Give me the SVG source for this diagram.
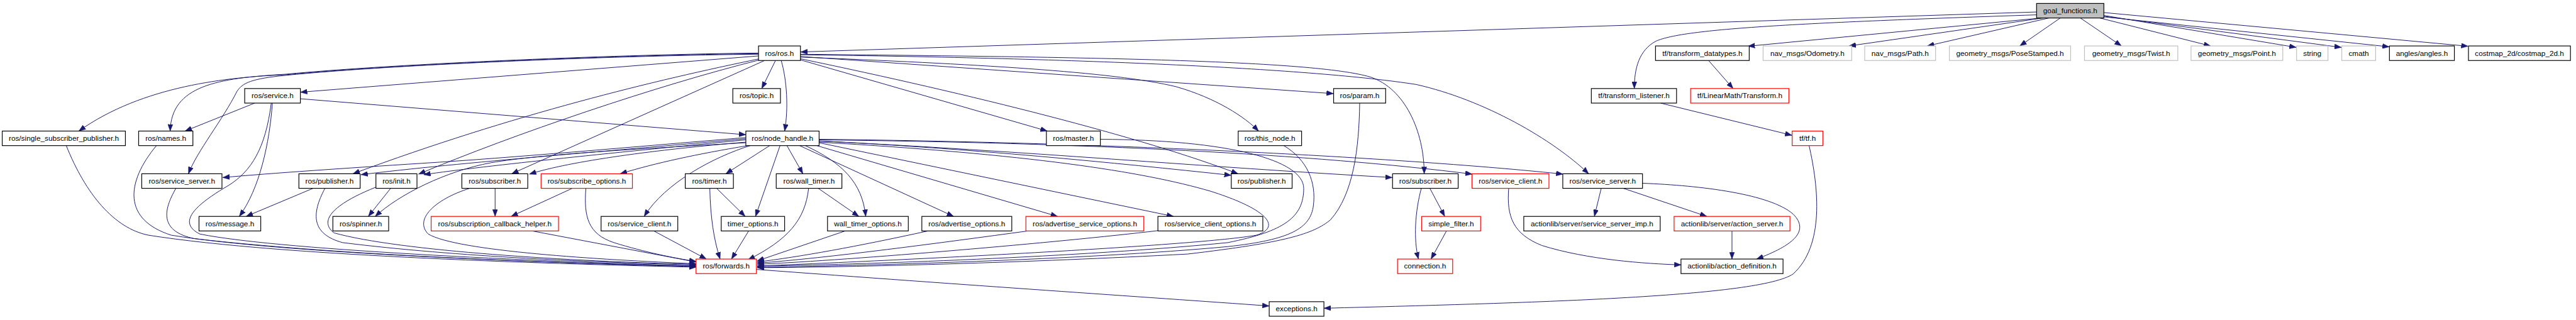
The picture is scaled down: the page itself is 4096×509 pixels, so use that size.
<svg xmlns="http://www.w3.org/2000/svg" width="4096" height="509" viewBox="0 0 4096 509">
<style>
rect.b{fill:#fff;stroke:#000;stroke-width:1.3}
rect.r{fill:#fff;stroke:#ff0000;stroke-width:1.3}
rect.g{fill:#fff;stroke:#bfbfbf;stroke-width:1.3}
rect.root{fill:#bfbfbf;stroke:#000;stroke-width:1.3}
text{font-family:"Liberation Sans",Arial,Helvetica,sans-serif;font-size:13px;text-anchor:middle;fill:#000}
#edges path{fill:none;stroke:#191970;stroke-width:1.1;marker-end:url(#a)}
</style>
<defs>
<marker id="a" markerUnits="userSpaceOnUse" markerWidth="12" markerHeight="9" refX="12" refY="4.5" orient="auto">
<path d="M0,0 L12,4.5 L0,9 z" fill="#191970" stroke="#191970" stroke-width="0.5"/>
</marker>
</defs>
<rect width="4096" height="509" fill="#fff"/>
<g transform="scale(0.908)">
<g id="edges">
<path d="M3566,21 L1402,91"/>
<path d="M3566,26 C3150,40 2950,50 2900,72 C2870,88 2862,120 2862,155"/>
<path d="M3575,31.5 L3061,81"/>
<path d="M3578,31.5 L3238,80.5"/>
<path d="M3588,31.5 L3375,80.5"/>
<path d="M3608,31.5 L3537,80.5"/>
<path d="M3643,31.5 L3715,80.5"/>
<path d="M3675,31 L3871,80.5"/>
<path d="M3684,27 L4021,83"/>
<path d="M3684,28.5 L4100,83"/>
<path d="M3684,29.5 L4184,82"/>
<path d="M3684,22 L4322,81"/>
<path d="M1328,94 C1100,96 700,112 500,131 C400,135 250,150 138,229.6"/>
<path d="M1328,93 C1100,95 700,111 500,130 C380,137 300,150 298,229.6"/>
<path d="M1328,95 C1100,97 700,112 500,132 C440,138 425,145 415,160 C390,210 345,265 330,304.4"/>
<path d="M1328,98 L526,161.5"/>
<path d="M1339,106 L896,304.4"/>
<path d="M1330,103 C1150,140 900,200 618,304.4"/>
<path d="M1330,105 C1150,150 900,235 733,305"/>
<path d="M1358,106 L1334,155.1"/>
<path d="M1368,106 C1378,140 1381,190 1374,229.6"/>
<path d="M1402,105 L1834,229.6"/>
<path d="M1402,103 C1700,165 2000,240 2168,304.4"/>
<path d="M1402,100 C1700,112 1950,125 2060,152 C2130,172 2180,205 2204,229.6"/>
<path d="M1402,99 L2335,164"/>
<path d="M1402,95 C1900,100 2300,105 2400,135 C2460,155 2494,230 2494,304.4"/>
<path d="M1402,96 C1900,102 2300,120 2480,148 C2600,175 2720,245 2782,304.4"/>
<path d="M446,180.6 L324,229.6"/>
<path d="M526,173 L1306,236"/>
<path d="M477,180.6 C472,250 455,330 419,379.1"/>
<path d="M475,180.6 C465,260 440,300 400,325 C340,360 310,390 350,410 C500,440 1000,460 1219,466"/>
<path d="M116,255 C150,340 200,400 260,412 C500,450 1000,463 1219,468"/>
<path d="M274,255 C220,320 215,385 300,412 C500,445 1000,462 1219,467"/>
<path d="M308,330 C285,370 280,405 340,418 C600,448 1000,462 1219,466"/>
<path d="M548,330 L431,379.1"/>
<path d="M569,330 C545,375 545,410 600,425 C800,450 1050,460 1219,464"/>
<path d="M684,330 L645,379.1"/>
<path d="M658,328 C590,355 555,385 585,408 C700,440 1000,458 1219,463"/>
<path d="M1306,241 C1100,258 900,276 740,286 C600,295 480,303 390,311"/>
<path d="M1306,243 C1100,262 800,285 632,306"/>
<path d="M1306,245 C1100,265 850,290 742,306"/>
<path d="M1306,250 C1100,262 950,270 860,285 C780,300 700,340 657,379.1"/>
<path d="M1306,249 C1150,262 1000,282 927,305"/>
<path d="M1310,255 C1220,270 1150,285 1086,304.4"/>
<path d="M1314,255 C1250,275 1165,320 1128,379.1"/>
<path d="M1348,255 L1271,304.4"/>
<path d="M1366,255 L1323,379.1"/>
<path d="M1378,255 L1406,304.4"/>
<path d="M1410,255 C1475,285 1510,320 1516,379.1"/>
<path d="M1400,255 L1670,379.1"/>
<path d="M1430,255 L1852,379.1"/>
<path d="M1434,250 L2055,379.1"/>
<path d="M1434,249 C1800,270 2000,300 2120,335 C2230,370 2240,400 2200,412 C2100,430 1600,455 1326,466"/>
<path d="M1434,247 C1700,260 1950,285 2156,307"/>
<path d="M1434,247 C1800,265 2100,292 2438,311"/>
<path d="M1434,245 C1900,250 2300,270 2578,305"/>
<path d="M1434,244 C2000,250 2500,280 2737,305"/>
<path d="M867,330 L867,379.1"/>
<path d="M822,330 C760,350 725,385 750,410 C800,440 1050,455 1219,462"/>
<path d="M1002,330 L895,379.1"/>
<path d="M1026,330 C1022,380 1030,410 1075,425 C1130,442 1180,452 1219,458"/>
<path d="M932,404.6 L1219,459"/>
<path d="M1145,404.6 L1237,453.8"/>
<path d="M1255,330 L1305,379.1"/>
<path d="M1243,330 C1244,380 1250,420 1261,453.8"/>
<path d="M1311,404.6 L1281,453.8"/>
<path d="M1433,330 L1504,379.1"/>
<path d="M1416,330 C1410,385 1380,420 1310,455"/>
<path d="M1480,404.6 L1326,457"/>
<path d="M1625,404.6 C1500,432 1400,450 1326,459"/>
<path d="M1800,404.6 C1650,425 1450,452 1326,461"/>
<path d="M2028,404 C1850,425 1500,455 1326,463"/>
<path d="M1927,244 C2150,245 2283,280 2283,330 C2283,380 2250,405 2150,425 C1900,450 1500,464 1326,466"/>
<path d="M2248,255 C2290,280 2305,320 2300,360 C2295,400 2260,420 2150,432 C1900,455 1500,466 1326,468"/>
<path d="M2381,180.6 C2380,260 2370,340 2330,385 C2300,410 2250,425 2080,445 C1800,460 1500,468 1326,469"/>
<path d="M2504,330 L2530,379.1"/>
<path d="M2489,330 C2478,370 2475,420 2484,453.8"/>
<path d="M2533,404.6 L2506,453.8"/>
<path d="M2642,330 C2638,380 2650,410 2700,430 C2780,455 2880,462 2944,464"/>
<path d="M2804,330 L2792,379.1"/>
<path d="M2843,330 L2989,379.1"/>
<path d="M2876,321 C2980,325 3100,340 3140,375 C3170,405 3140,430 3076,453.8"/>
<path d="M3033,404.6 L3033,453.8"/>
<path d="M2992,106 L3035,155.1"/>
<path d="M2908,180.6 L3138,237"/>
<path d="M3168,255 C3185,330 3195,430 3140,480 C3080,520 2700,530 2318.4,540"/>
<path d="M1325,472 C1700,500 2000,520 2222.6,536"/>
</g>
<g id="n_goal_functions"><rect class="root" x="3566.4" y="6" width="117.8" height="25.5"/><text x="3625.3" y="23">goal_functions.h</text></g>
<g id="n_ros"><rect class="b" x="1328.3" y="80.5" width="73.4" height="25.5"/><text x="1365" y="97.5">ros/ros.h</text></g>
<g id="n_transform_datatypes"><rect class="b" x="2899.1" y="80.5" width="164.1" height="25.5"/><text x="2981.2" y="97.5">tf/transform_datatypes.h</text></g>
<g id="n_odometry"><rect class="g" x="3087.5" y="80.5" width="155.1" height="25.5"/><text x="3165" y="97.5">nav_msgs/Odometry.h</text></g>
<g id="n_path"><rect class="g" x="3265.4" y="80.5" width="124.1" height="25.5"/><text x="3327.5" y="97.5">nav_msgs/Path.h</text></g>
<g id="n_posestamped"><rect class="g" x="3413.7" y="80.5" width="212.3" height="25.5"/><text x="3519.9" y="97.5">geometry_msgs/PoseStamped.h</text></g>
<g id="n_twist"><rect class="g" x="3650.3" y="80.5" width="163.4" height="25.5"/><text x="3732" y="97.5">geometry_msgs/Twist.h</text></g>
<g id="n_point"><rect class="g" x="3836.9" y="80.5" width="160.6" height="25.5"/><text x="3917.2" y="97.5">geometry_msgs/Point.h</text></g>
<g id="n_string"><rect class="g" x="4021.7" y="80.5" width="55" height="25.5"/><text x="4049.2" y="97.5">string</text></g>
<g id="n_cmath"><rect class="g" x="4100.9" y="80.5" width="59.2" height="25.5"/><text x="4130.5" y="97.5">cmath</text></g>
<g id="n_angles"><rect class="b" x="4184.3" y="80.5" width="113.7" height="25.5"/><text x="4241.2" y="97.5">angles/angles.h</text></g>
<g id="n_costmap"><rect class="b" x="4322.7" y="80.5" width="178.6" height="25.5"/><text x="4412" y="97.5">costmap_2d/costmap_2d.h</text></g>
<g id="n_service"><rect class="b" x="428.5" y="155.1" width="97.5" height="25.5"/><text x="477.3" y="172.1">ros/service.h</text></g>
<g id="n_topic"><rect class="b" x="1283.3" y="155.1" width="83.4" height="25.5"/><text x="1325" y="172.1">ros/topic.h</text></g>
<g id="n_param"><rect class="b" x="2335.4" y="155.1" width="91.1" height="25.5"/><text x="2381" y="172.1">ros/param.h</text></g>
<g id="n_transform_listener"><rect class="b" x="2786.7" y="155.1" width="149.2" height="25.5"/><text x="2861.3" y="172.1">tf/transform_listener.h</text></g>
<g id="n_linearmath"><rect class="r" x="2960.5" y="155.1" width="172.1" height="25.5"/><text x="3046.6" y="172.1">tf/LinearMath/Transform.h</text></g>
<g id="n_single_sub"><rect class="b" x="3.9" y="229.6" width="215.7" height="25.5"/><text x="111.8" y="246.6">ros/single_subscriber_publisher.h</text></g>
<g id="n_names"><rect class="b" x="242.8" y="229.6" width="95" height="25.5"/><text x="290.3" y="246.6">ros/names.h</text></g>
<g id="n_node_handle"><rect class="b" x="1306.1" y="229.6" width="128.3" height="25.5"/><text x="1370.3" y="246.6">ros/node_handle.h</text></g>
<g id="n_master"><rect class="b" x="1832.4" y="229.6" width="94.5" height="25.5"/><text x="1879.7" y="246.6">ros/master.h</text></g>
<g id="n_this_node"><rect class="b" x="2168.3" y="229.6" width="111" height="25.5"/><text x="2223.8" y="246.6">ros/this_node.h</text></g>
<g id="n_tf"><rect class="r" x="3138.4" y="229.6" width="53.8" height="25.5"/><text x="3165.3" y="246.6">tf/tf.h</text></g>
<g id="n_service_server_l"><rect class="b" x="248.2" y="304.4" width="140.5" height="25.5"/><text x="318.5" y="321.4">ros/service_server.h</text></g>
<g id="n_publisher_l"><rect class="b" x="523.4" y="304.4" width="107.3" height="25.5"/><text x="577" y="321.4">ros/publisher.h</text></g>
<g id="n_init"><rect class="b" x="658.3" y="304.4" width="71.9" height="25.5"/><text x="694.3" y="321.4">ros/init.h</text></g>
<g id="n_subscriber_l"><rect class="b" x="808.8" y="304.4" width="115.4" height="25.5"/><text x="866.5" y="321.4">ros/subscriber.h</text></g>
<g id="n_subscribe_options"><rect class="r" x="947.5" y="304.4" width="159.9" height="25.5"/><text x="1027.5" y="321.4">ros/subscribe_options.h</text></g>
<g id="n_timer"><rect class="b" x="1200" y="304.4" width="84.3" height="25.5"/><text x="1242.2" y="321.4">ros/timer.h</text></g>
<g id="n_wall_timer"><rect class="b" x="1359.3" y="304.4" width="115" height="25.5"/><text x="1416.8" y="321.4">ros/wall_timer.h</text></g>
<g id="n_publisher_r"><rect class="b" x="2156.2" y="304.4" width="106.5" height="25.5"/><text x="2209.5" y="321.4">ros/publisher.h</text></g>
<g id="n_subscriber_r"><rect class="b" x="2438.6" y="304.4" width="114.9" height="25.5"/><text x="2496" y="321.4">ros/subscriber.h</text></g>
<g id="n_service_client_r"><rect class="r" x="2577.7" y="304.4" width="134.8" height="25.5"/><text x="2645.1" y="321.4">ros/service_client.h</text></g>
<g id="n_service_server_r"><rect class="b" x="2736.7" y="304.4" width="139.6" height="25.5"/><text x="2806.5" y="321.4">ros/service_server.h</text></g>
<g id="n_message"><rect class="b" x="348.5" y="379.1" width="108.1" height="25.5"/><text x="402.6" y="396.1">ros/message.h</text></g>
<g id="n_spinner"><rect class="b" x="582.9" y="379.1" width="97.7" height="25.5"/><text x="631.8" y="396.1">ros/spinner.h</text></g>
<g id="n_cb_helper"><rect class="r" x="755" y="379.1" width="223" height="25.5"/><text x="866.5" y="396.1">ros/subscription_callback_helper.h</text></g>
<g id="n_service_client_l"><rect class="b" x="1052.6" y="379.1" width="134.3" height="25.5"/><text x="1119.8" y="396.1">ros/service_client.h</text></g>
<g id="n_timer_options"><rect class="b" x="1263" y="379.1" width="111" height="25.5"/><text x="1318.5" y="396.1">timer_options.h</text></g>
<g id="n_wall_timer_options"><rect class="b" x="1449.1" y="379.1" width="141.5" height="25.5"/><text x="1519.9" y="396.1">wall_timer_options.h</text></g>
<g id="n_advertise_options"><rect class="b" x="1614.3" y="379.1" width="157.5" height="25.5"/><text x="1693" y="396.1">ros/advertise_options.h</text></g>
<g id="n_adv_service_options"><rect class="r" x="1796.5" y="379.1" width="206.5" height="25.5"/><text x="1899.8" y="396.1">ros/advertise_service_options.h</text></g>
<g id="n_service_client_options"><rect class="b" x="2027.7" y="379.1" width="183.7" height="25.5"/><text x="2119.6" y="396.1">ros/service_client_options.h</text></g>
<g id="n_simple_filter"><rect class="r" x="2489.5" y="379.1" width="103.3" height="25.5"/><text x="2541.2" y="396.1">simple_filter.h</text></g>
<g id="n_service_server_imp"><rect class="b" x="2668.4" y="379.1" width="238.9" height="25.5"/><text x="2787.9" y="396.1">actionlib/server/service_server_imp.h</text></g>
<g id="n_action_server"><rect class="r" x="2931.6" y="379.1" width="202.9" height="25.5"/><text x="3033" y="396.1">actionlib/server/action_server.h</text></g>
<g id="n_forwards"><rect class="r" x="1218.9" y="453.8" width="105.7" height="25.5"/><text x="1271.8" y="470.8">ros/forwards.h</text></g>
<g id="n_connection"><rect class="r" x="2447.3" y="453.8" width="96.5" height="25.5"/><text x="2495.5" y="470.8">connection.h</text></g>
<g id="n_action_definition"><rect class="b" x="2943.7" y="453.8" width="178.7" height="25.5"/><text x="3033" y="470.8">actionlib/action_definition.h</text></g>
<g id="n_exceptions"><rect class="b" x="2222.6" y="528.5" width="95.8" height="25.5"/><text x="2270.5" y="545.5">exceptions.h</text></g>
</g>
</svg>
